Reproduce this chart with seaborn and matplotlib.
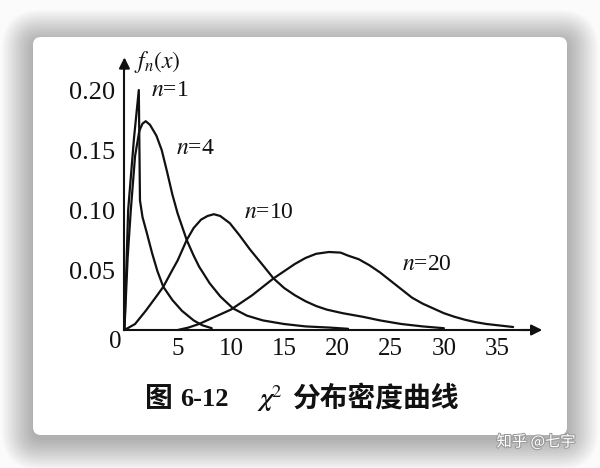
import matplotlib
matplotlib.use("Agg")
import matplotlib.pyplot as plt
import matplotlib.patheffects as pe
from matplotlib.patches import FancyBboxPatch
import seaborn as sns
import pandas as pd

# values (x, f_n(x))
n1_x = [0, 0.35, 0.9, 1.35, 1.46, 1.7, 2.1, 2.6, 3.1, 3.65, 4.5, 5.4, 6.5, 7.3, 8.2]
n1_y = [0, 0.10, 0.16, 0.20, 0.108, 0.094, 0.081, 0.064, 0.049, 0.036, 0.025, 0.016, 0.008, 0.004, 0.0015]

n4_x = [0, 0.3, 0.6, 1.0, 1.4, 1.7, 2.0, 2.4, 3.0, 3.5, 4.0, 4.5, 5.0, 5.85, 6.5, 7.0, 8.0, 9.0,
        10.2, 11.5, 13.0, 15.0, 17.0, 19.3, 21.0]
n4_y = [0, 0.06, 0.10, 0.145, 0.166, 0.172, 0.174, 0.171, 0.162, 0.150, 0.132, 0.113, 0.097,
        0.075, 0.062, 0.053, 0.039, 0.028, 0.018, 0.012, 0.008, 0.005, 0.003, 0.002, 0.001]

n10_x = [0, 1, 2, 3, 3.65, 4.5, 5.0, 5.85, 6.5, 7.2, 7.8, 8.4, 9.0, 9.9, 10.8, 11.8, 13.0,
         14.0, 15.0, 16.0, 17.0, 18.0, 19.0, 20.5, 22.4, 24.0, 26.0, 28.0, 30.0]
n10_y = [0, 0.005, 0.016, 0.028, 0.036, 0.050, 0.058, 0.075, 0.085, 0.092, 0.095, 0.0965,
         0.095, 0.089, 0.079, 0.067, 0.054, 0.043, 0.035, 0.029, 0.024, 0.020, 0.017, 0.014,
         0.011, 0.008, 0.005, 0.003, 0.0015]

n20_x = [5, 6, 7, 8, 9, 10, 11, 12, 13, 14, 15, 16, 17, 18, 19.2, 20.3, 21, 22, 23, 24, 25,
         26, 27, 28, 29, 30, 31, 32, 33, 34, 35, 36, 36.5]
n20_y = [0, 0.002, 0.005, 0.009, 0.013, 0.017, 0.023, 0.029, 0.036, 0.043, 0.049, 0.055,
         0.060, 0.0635, 0.065, 0.0645, 0.062, 0.059, 0.054, 0.048, 0.041, 0.034, 0.027, 0.022,
         0.018, 0.014, 0.011, 0.0085, 0.0065, 0.005, 0.004, 0.003, 0.0025]

curve_names = ["n=1", "n=4", "n=10", "n=20"]
curve_labels = [r"$n$=1", r"$n$=4", r"$n$=10", r"$n$=20"]
label_pos = [(4.3, 0.200), (6.7, 0.151), (13.6, 0.098), (28.4, 0.055)]
x_ticks = [5, 10, 15, 20, 25, 30, 35]
y_ticks = [0.05, 0.10, 0.15, 0.20]
y_ticklabels = ["0.05", "0.10", "0.15", "0.20"]

df = pd.concat([
    pd.DataFrame({"curve": name, "x": xs, "y": ys})
    for name, xs, ys in zip(curve_names, [n1_x, n4_x, n10_x, n20_x], [n1_y, n4_y, n10_y, n20_y])
])

sns.set_style("white")
plt.rcParams["font.family"] = ["Liberation Serif", "DejaVu Serif"]
plt.rcParams["mathtext.fontset"] = "stix"

fig = plt.figure(figsize=(6, 4.68), dpi=100, facecolor="#fbfbfb")

# background card with soft shadow, drawn in pixel coordinates
bg = fig.add_axes([0, 0, 1, 1], zorder=-5)
bg.set_xlim(0, 600)
bg.set_ylim(468, 0)
bg.axis("off")
for i in range(16):
    grow = 1 + i * 2.0
    bg.add_patch(FancyBboxPatch((33 - grow, 37 - grow + 4), 534 + 2 * grow, 398 + 2 * grow,
                                boxstyle="round,pad=0,rounding_size=%.1f" % (8 + grow),
                                fc="black", ec="none", alpha=0.018))
bg.add_patch(FancyBboxPatch((33, 37), 534, 398, boxstyle="round,pad=0,rounding_size=8",
                            fc="white", ec="none"))

ax = fig.add_axes([0.1985, 0.2846, 0.7188, 0.600])
ax.patch.set_alpha(0)
sns.lineplot(data=df, x="x", y="y", units="curve", estimator=None, color="#111111",
             linewidth=1.6, ax=ax, legend=False)
for ln in ax.lines:
    ln.set_clip_on(False)
    ln.set_solid_joinstyle("round")

ax.set_xlim(-0.5, 40)
ax.set_ylim(-0.004, 0.23)
for s in ["top", "right"]:
    ax.spines[s].set_visible(False)
ax.spines["left"].set_position(("data", 0))
ax.spines["bottom"].set_position(("data", 0))
ax.spines["left"].set_bounds(0, 0.22)
ax.spines["bottom"].set_bounds(0, 38)
for s in ["left", "bottom"]:
    ax.spines[s].set_linewidth(1.5)
    ax.spines[s].set_color("#111111")

ax.annotate("", xy=(0, 0.2295), xytext=(0, 0.215),
            arrowprops=dict(arrowstyle="-|>", color="#111111", lw=1.5, mutation_scale=16))
ax.annotate("", xy=(39.5, 0), xytext=(37, 0),
            arrowprops=dict(arrowstyle="-|>", color="#111111", lw=1.5, mutation_scale=16))

ax.set_xticks(x_ticks)
ax.set_xticklabels([str(t) for t in x_ticks], fontsize=18)
ax.set_yticks(y_ticks)
ax.set_yticklabels(y_ticklabels, fontsize=19)
ax.tick_params(axis="x", direction="in", length=5, width=1.2, pad=6, colors="#111111")
ax.tick_params(axis="y", direction="in", length=5, width=1.2, pad=7, colors="#111111")
ax.set_xlabel("")
ax.set_ylabel("")
ax.annotate("0", xy=(0, 0), xytext=(-2, -1), textcoords="offset points",
            ha="right", va="top", fontsize=18, color="#111111")

for lab, (lx, ly) in zip(curve_labels, label_pos):
    ax.text(lx, ly, lab, fontsize=17, ha="center", va="center", color="#111111")

fig.text(157 / 600, 1 - 62 / 468, r"$f_n(x)$", fontsize=17, ha="center", va="center",
         color="#111111")

# caption
cap_y = 1 - 399 / 468
cjk = ["Noto Sans CJK SC", "DejaVu Sans"]
fig.text(145 / 600, cap_y, "图", fontsize=20, ha="left", va="center", fontweight="bold",
         family=cjk, color="#111111")
fig.text(180 / 600, cap_y, "6-12", fontsize=19, ha="left", va="center", fontweight="bold",
         color="#111111")
fig.text(257 / 600, cap_y, r"$\boldsymbol{\chi}^2$", fontsize=19, ha="left", va="center",
         color="#111111")
fig.text(292 / 600, cap_y, "分布密度曲线", fontsize=20, ha="left", va="center",
         fontweight="bold", family=cjk, color="#111111")

# watermark
fig.text(536 / 600, 1 - 442 / 468, "知乎 @七宇", fontsize=11, ha="center", va="center",
         color="white", family=cjk,
         path_effects=[pe.withStroke(linewidth=1.5, foreground="#9a9a9a")])

fig.savefig("out.png", dpi=100, facecolor=fig.get_facecolor())
